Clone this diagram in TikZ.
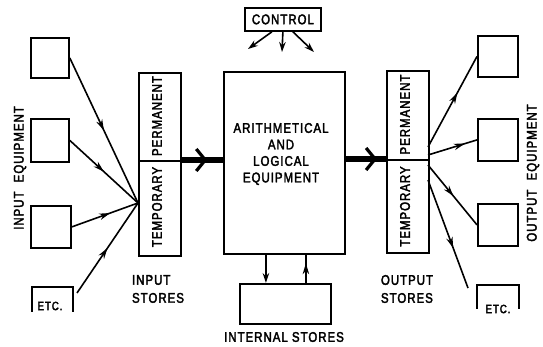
\documentclass[tikz,border=0pt]{standalone}
\usepackage{fontspec}
\setmainfont{Liberation Sans}[FakeStretch=0.82,LetterSpace=7,FakeBold=2.5]
\usetikzlibrary{arrows.meta,decorations.markings}
\begin{document}
\begin{tikzpicture}[x=1pt,y=-1pt,
  box/.style={draw,line width=1.8pt,inner sep=0pt,anchor=north west},
  txt/.style={font=\fontsize{14}{18}\selectfont,inner sep=0pt},
  small/.style={font=\fontsize{12}{14}\selectfont,inner sep=0pt},
  vtxt/.style={txt,rotate=90},
  feed/.style={line width=1.6pt,postaction={decorate},decoration={markings,mark=at position #1 with {\arrow{Stealth[length=11pt,width=6.5pt]}}}},
  bigflow/.style={line width=6.5pt,postaction={decorate},decoration={markings,mark=at position #1 with {\arrow{Straight Barb[length=9pt,width=22pt,line width=3.2pt]}}}},
  ctl/.style={line width=1.6pt,-{Stealth[length=10pt,width=6.5pt]}}
]
\useasboundingbox (0,0) rectangle (543,347);

% input equipment
\node[box,minimum width=38pt,minimum height=40pt] (in1) at (30,37) {};
\node[box,minimum width=38pt,minimum height=43pt] (in2) at (30,118) {};
\node[box,minimum width=40pt,minimum height=42pt] (in3) at (30,205) {};
\node[box,draw=none,minimum width=39pt,minimum height=23pt] (inetc) at (32,287) {};
\draw[line width=1.8pt] (inetc.south west) -- (inetc.north west) -- (inetc.north east) -- (inetc.south east);
\node[small] (inetct) at (50,306) {ETC.};
\node[vtxt] (inlbl) at (20,168) {INPUT\hspace{5pt} EQUIPMENT};

% input stores
\node[box,minimum width=42pt,minimum height=88pt] (iperm) at (138,72) {};
\node[box,minimum width=42pt,minimum height=95pt] (itemp) at (138,160) {};
\node[vtxt] (ipermt) at (157,116) {PERMANENT};
\node[vtxt] (itempt) at (157,207) {TEMPORARY};
\node[txt,align=left] (istlbl) at (158,289) {INPUT\\STORES};

\coordinate (ijoin) at (138,203);
\coordinate (etcin) at (77,293);
\draw[feed=0.5] (in1.east) -- (ijoin);
\draw[feed=0.5] (in2.east) -- (ijoin);
\draw[feed=0.58] (in3.east) -- (ijoin);
\draw[feed=0.5] (etcin) -- (ijoin);

% arithmetical unit
\node[box,minimum width=121pt,minimum height=182pt] (ale) at (223,71) {};
\node[txt,align=center,font=\fontsize{14}{16.5}\selectfont] (alet) at (281,154) {ARITHMETICAL\\AND\\LOGICAL\\EQUIPMENT};
\draw[bigflow=0.62] (itemp.north east) -- (itemp.north east -| ale.west);

% control
\node[box,minimum width=76pt,minimum height=23pt,txt] (ctrl) at (244,7) {CONTROL};
\coordinate (c1) at (248,49);
\coordinate (c2) at (282,52);
\coordinate (c3) at (314,52);
\draw[ctl] ([xshift=-11pt]ctrl.south) -- (c1);
\draw[ctl] (ctrl.south) -- (c2);
\draw[ctl] ([xshift=10pt]ctrl.south) -- (c3);

% internal stores
\node[box,minimum width=91pt,minimum height=40pt] (ist) at (239,283) {};
\node[txt] (istl) at (284,337) {INTERNAL STORES};
\draw[ctl] ([xshift=-18.5pt]ale.south) -- ([xshift=-18.5pt]ale.south |- ist.north);
\draw[feed=0.7] ([xshift=21.5pt]ale.south |- ist.north) -- ([xshift=21.5pt]ale.south);

% output stores
\node[box,minimum width=42pt,minimum height=89pt] (operm) at (386,70) {};
\node[box,minimum width=42pt,minimum height=93pt] (otemp) at (386,159) {};
\node[vtxt] (opermt) at (405,114.5) {PERMANENT};
\node[vtxt] (otempt) at (405,206.5) {TEMPORARY};
\node[txt,align=left] (ostlbl) at (407,289) {OUTPUT\\STORES};
\draw[bigflow=0.78] (otemp.north west -| ale.east) -- (otemp.north west);

% output equipment
\node[box,minimum width=40pt,minimum height=41pt] (ob1) at (477,35) {};
\node[box,minimum width=40pt,minimum height=42pt] (ob2) at (477,118) {};
\node[box,minimum width=40pt,minimum height=42pt] (ob3) at (477,203) {};
\node[box,draw=none,minimum width=40pt,minimum height=22pt] (oetc) at (477,285) {};
\draw[line width=1.8pt] (oetc.south west) -- (oetc.north west) -- (oetc.north east) -- (oetc.south east);
\node[small] (oetct) at (498,309) {ETC.};
\node[vtxt] (outlbl) at (533,173) {OUTPUT\hspace{5pt} EQUIPMENT};

\coordinate (o1) at (428,147);
\coordinate (o2) at (428,155);
\coordinate (o3) at (428,165);
\coordinate (o4) at (428,180);
\coordinate (oetcin) at (468,288);
\draw[feed=0.6] (o1) -- (ob1.west);
\draw[feed=0.75] (o2) -- (ob2.west);
\draw[feed=0.52] (o3) -- (ob3.west);
\draw[feed=0.63] (o4) -- (oetcin);
\end{tikzpicture}
\end{document}
